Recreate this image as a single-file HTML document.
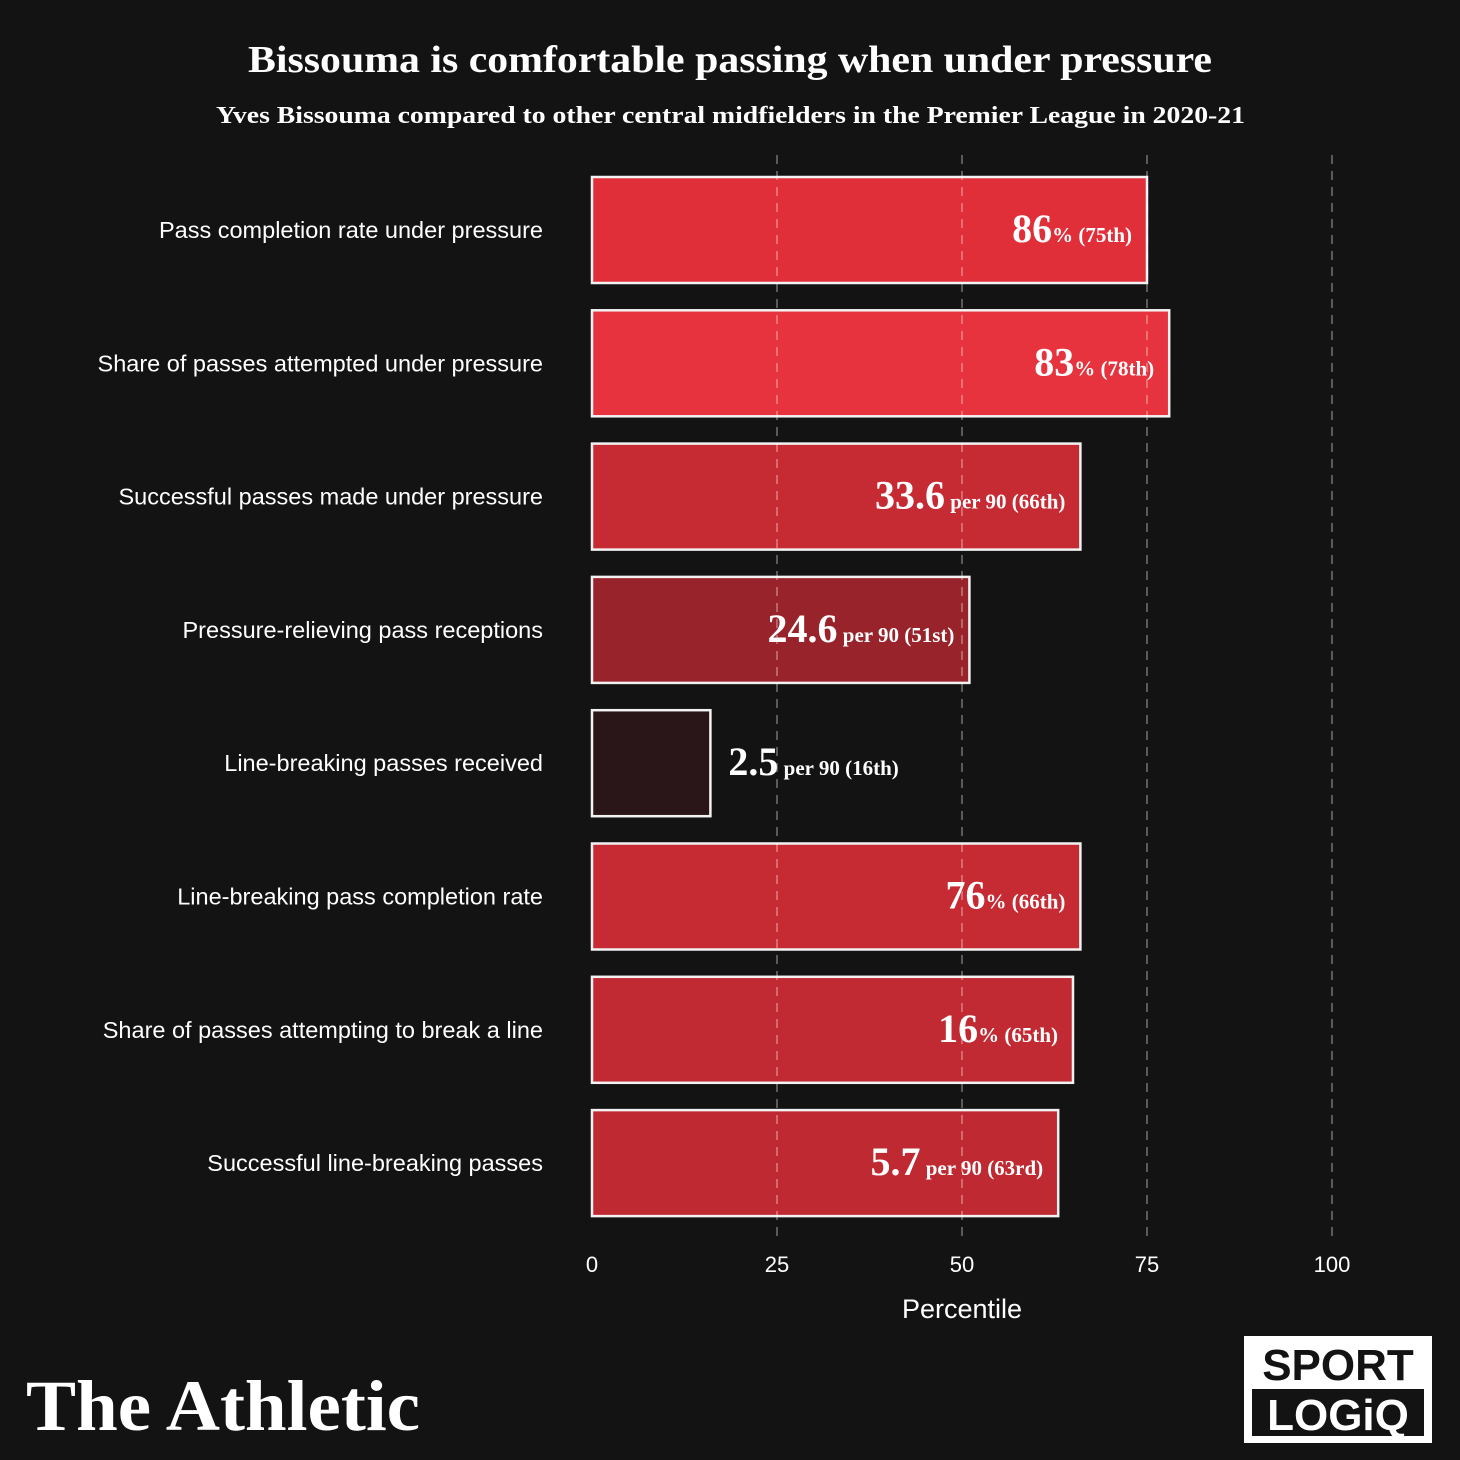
<!DOCTYPE html>
<html><head><meta charset="utf-8"><style>
html,body{margin:0;padding:0;background:#131313;}
svg{display:block;}
</style></head><body>
<svg id="chart" width="1460" height="1460" xmlns="http://www.w3.org/2000/svg">
<rect width="1460" height="1460" fill="#131313"/>
<text x="248" y="72" textLength="964" lengthAdjust="spacingAndGlyphs" fill="#fff" font-family="Liberation Serif, serif" font-weight="bold" font-size="38">Bissouma is comfortable passing when under pressure</text>
<text x="216" y="123" textLength="1029" lengthAdjust="spacingAndGlyphs" fill="#fff" font-family="Liberation Serif, serif" font-weight="bold" font-size="24">Yves Bissouma compared to other central midfielders in the Premier League in 2020-21</text>
<g id="bars"></g>
<g id="grid"></g>
<g id="labels"></g>
<text x="962" y="1318" text-anchor="middle" fill="#fff" font-family="Liberation Sans, sans-serif" font-size="27">Percentile</text>
<text x="26" y="1430" textLength="394" lengthAdjust="spacingAndGlyphs" fill="#fff" font-family="Liberation Serif, serif" font-weight="bold" font-size="72">The Athletic</text>
<g>
<rect x="1244" y="1336" width="188" height="107" fill="#fff"/>
<rect x="1252" y="1389" width="172" height="47" fill="#131313"/>
<text x="1338" y="1380" text-anchor="middle" fill="#131313" font-family="Liberation Sans, sans-serif" font-weight="bold" font-size="44">SPORT</text>
<text x="1338" y="1430" text-anchor="middle" fill="#fff" font-family="Liberation Sans, sans-serif" font-weight="bold" font-size="44">LOGiQ</text>
</g>
</svg>
<script>
const categories=["Pass completion rate under pressure","Share of passes attempted under pressure","Successful passes made under pressure","Pressure-relieving pass receptions","Line-breaking passes received","Line-breaking pass completion rate","Share of passes attempting to break a line","Successful line-breaking passes"];
const percentiles=[75,78,66,51,16,66,65,63];
const rawValues=["86","83","33.6","24.6","2.5","76","16","5.7"];
const units=["%","%"," per 90"," per 90"," per 90","%","%"," per 90"];
const ranks=["75th","78th","66th","51st","16th","66th","65th","63rd"];
const colors=["#e12f3a","#e6333d","#c62b34","#98232a","#2a1618","#c62b34","#c22a33","#bf2a32"];
const ticks=[0,25,50,75,100];

const NS="http://www.w3.org/2000/svg";
const x=v=>592+v*7.4;
const rowY=i=>177+i*133.3;
const BH=106;
function mk(tag,attrs,parent){const e=document.createElementNS(NS,tag);for(const k in attrs)e.setAttribute(k,attrs[k]);parent.appendChild(e);return e;}
const gb=document.getElementById('bars'),gg=document.getElementById('grid'),gl=document.getElementById('labels');
ticks.forEach(t=>{
  if(t>0){
    const l=mk('line',{x1:x(t),x2:x(t),y1:155,y2:1240,stroke:'rgba(255,255,255,0.3)','stroke-width':2,'stroke-dasharray':'9,7'},gg);
    
    
  }
  const tx=mk('text',{x:x(t),y:1272,'text-anchor':'middle',fill:'#fff','font-family':'Liberation Sans, sans-serif','font-size':22},gl);
  tx.textContent=t;
  
  
});
categories.forEach((c,i)=>{
  const y=rowY(i);
  const r=mk('rect',{x:x(0),y:y,width:x(percentiles[i])-x(0),height:BH,fill:colors[i],stroke:'#f2f2f2','stroke-width':2.5},gb);
  
  
  const lab=mk('text',{x:543,y:y+BH/2+8,'text-anchor':'end',fill:'#fff','font-family':'Liberation Sans, sans-serif','font-size':23.5},gl);
  lab.textContent=c;
  
  
  const inside=percentiles[i]>30;
  const vt=mk('text',{x:inside?x(percentiles[i])-15:x(percentiles[i])+18,y:y+BH/2+12,'text-anchor':inside?'end':'start',fill:'#fff','font-family':'Liberation Serif, serif','font-weight':'bold'},gl);
  
  
  const a=mk('tspan',{'font-size':40},vt);a.textContent=rawValues[i];
  const b=mk('tspan',{'font-size':21},vt);b.textContent=units[i]+' ('+ranks[i]+')';
});
</script>
</body></html>
